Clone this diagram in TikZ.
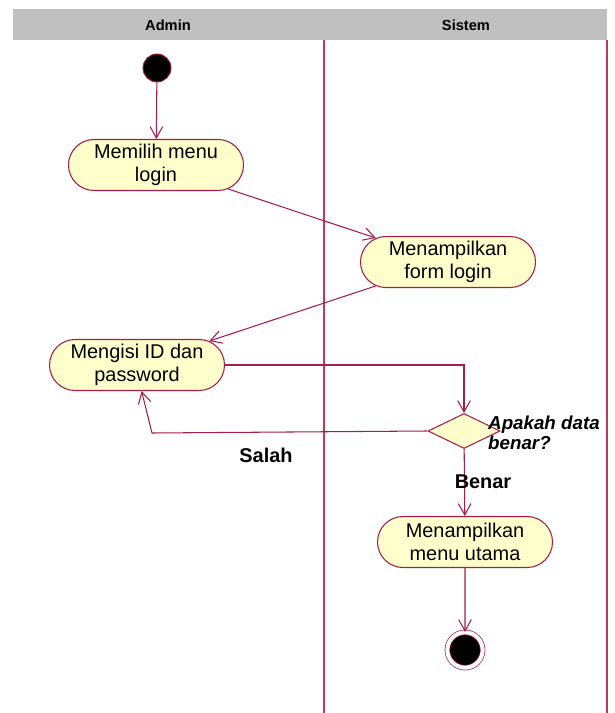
\documentclass[tikz,border=0pt]{standalone}
\usepackage{fontspec}
\setmainfont{Liberation Sans}
\usetikzlibrary{arrows.meta,shapes.geometric,shapes.misc,positioning}
\definecolor{lineclr}{RGB}{165,30,75}
\definecolor{laneclr}{RGB}{192,55,100}
\definecolor{actfill}{RGB}{255,255,204}
\definecolor{headgray}{RGB}{192,192,192}

\begin{document}
\begin{tikzpicture}[x=0.03cm, y=-0.03cm,
                    act/.style = {rounded rectangle, draw=lineclr, fill=actfill, line width=0.9pt,
                                  minimum width=5.25cm, minimum height=1.53cm, inner sep=0pt,
                                  align=center, font=\fontsize{17}{20}\selectfont},
                    decision/.style = {diamond, draw=lineclr, fill=actfill, line width=0.9pt,
                                       minimum width=2.16cm, minimum height=1.05cm, inner sep=0pt},
                    startnode/.style = {circle, fill=black, draw=lineclr, line width=0.8pt,
                                        minimum size=0.84cm, inner sep=0pt},
                    endnode/.style = {circle, fill=black, draw=lineclr, line width=0.6pt,
                                      double=white, double distance=0.12cm,
                                      minimum size=1.06cm, inner sep=0pt},
                    flow/.style = {draw=lineclr, line width=0.9pt,
                                   -{Straight Barb[length=3.4mm,width=3.8mm]}},
                    guard/.style = {inner sep=0pt, font=\bfseries\fontsize{17}{18}\selectfont},
                    lanehead/.style = {inner sep=0pt, font=\bfseries\fontsize{12.5}{14}\selectfont}]
\useasboundingbox (0,0) rectangle (614,713);
% swimlanes
\fill[headgray] (13,9) rectangle (607,40);
\node[lanehead] (admin)  at (168,25) {Admin};
\node[lanehead] (sistem) at (466,25) {Sistem};
\draw[laneclr, line width=1.1pt] (324,40) -- (324,713);
\draw[laneclr, line width=1.1pt] (607,40) -- (607,713);

% activities
\node[startnode] (start) at (157,68) {};
\node[act] (memilih) at (156,165) {Memilih menu\\login};
\node[act] (form) at (448,262) {Menampilkan\\form login};
\node[act] (mengisi) at (137,365) {Mengisi ID dan\\password};
\node[decision] (cek) at (464,431) {};
\node[inner sep=0pt, anchor=west, align=left,
      font=\bfseries\itshape\fontsize{16}{17}\selectfont] (tanya) at (488,433) {Apakah data\\benar?};
\node[act] (utama) at (465,542) {Menampilkan\\menu utama};
\node[endnode] (end) at (465,650) {};
\coordinate (salahbend) at (152,433);

\path[flow]
(start) edge (memilih)
(memilih) edge (form)
(form) edge (mengisi)
(cek) edge (utama)
(utama) edge (end);
\draw[flow] (mengisi.east) -| (cek.north);
\draw[flow] (cek.west) -- (salahbend) -- (mengisi.280);

% guards
\node[guard] (salah) at (266,455) {Salah};
\node[guard] (benar) at (483,482) {Benar};
\end{tikzpicture}
\end{document}
